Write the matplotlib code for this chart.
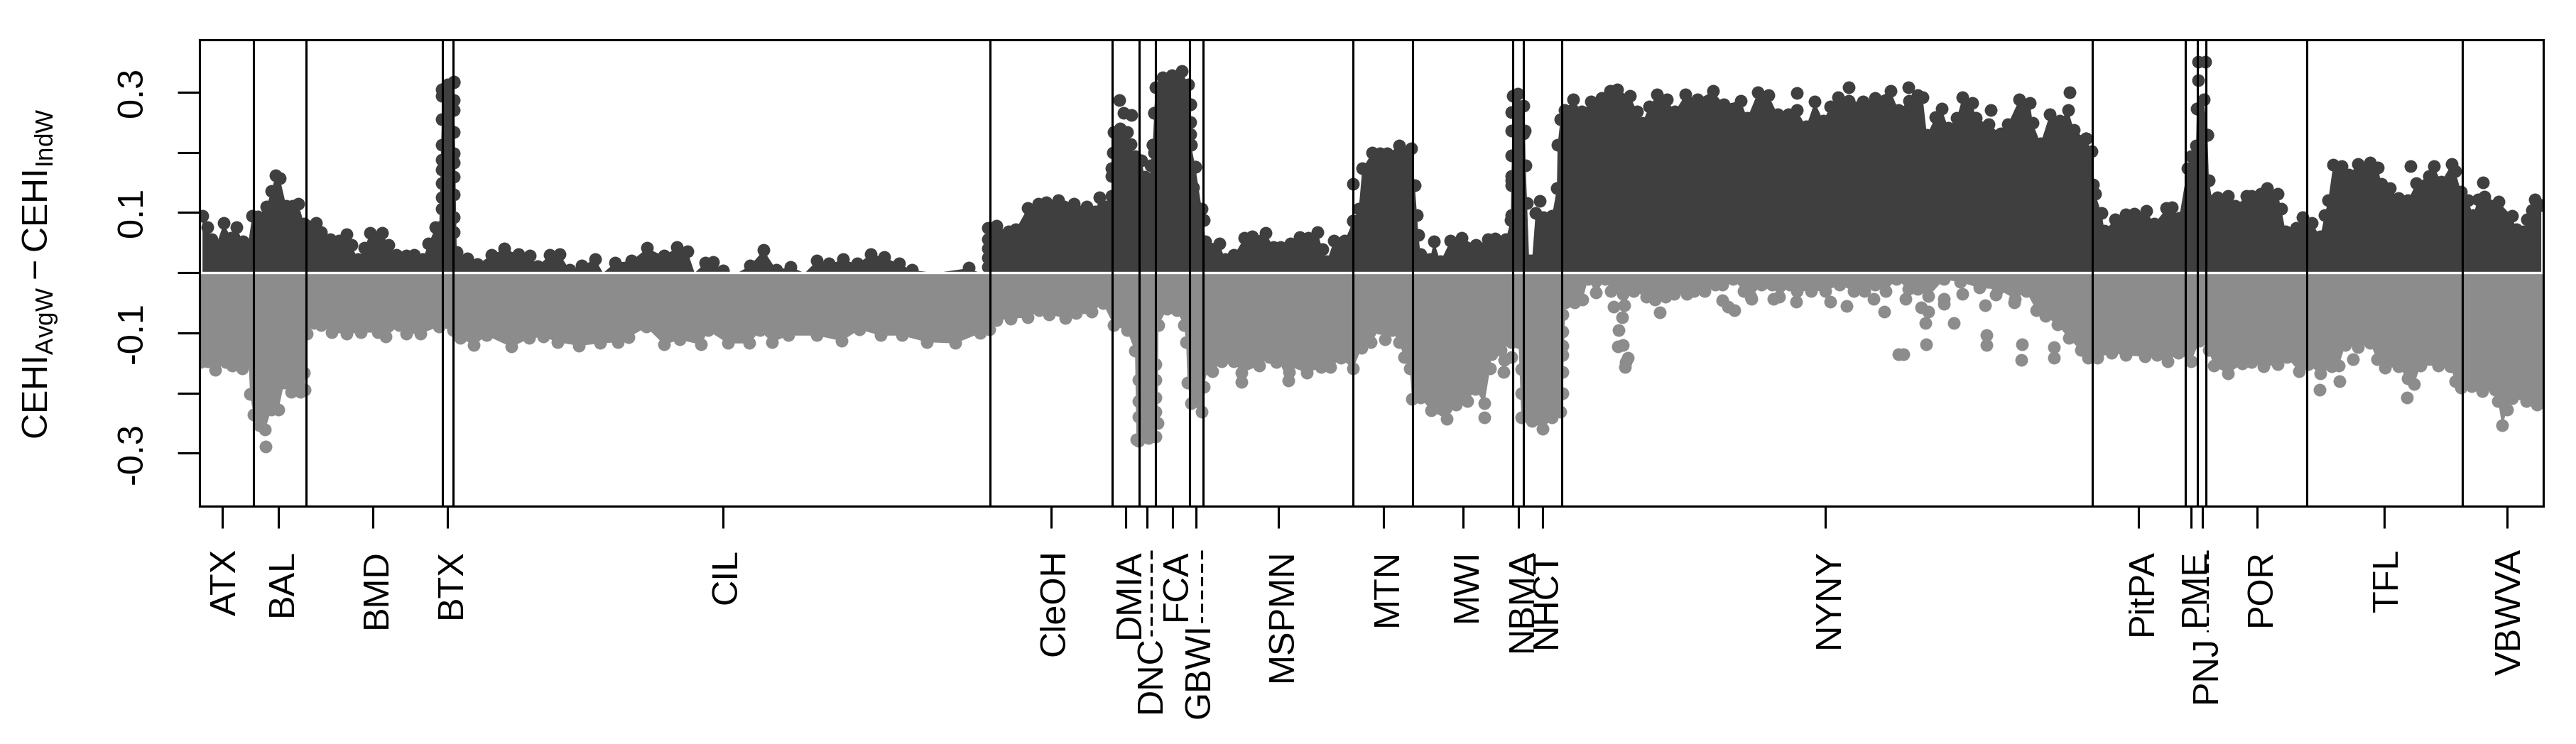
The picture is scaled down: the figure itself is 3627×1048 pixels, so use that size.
import numpy as np
import matplotlib
matplotlib.use('Agg')
import matplotlib.pyplot as plt

plt.rcParams['font.family'] = ['Liberation Sans', 'DejaVu Sans']
plt.rcParams['mathtext.fontset'] = 'custom'
plt.rcParams['mathtext.rm'] = 'Liberation Sans'

DARK = '#3f3f3f'
GRAY = '#8c8c8c'

# city blocks along the record index
cities = ['ATX', 'BAL', 'BMD', 'BTX', 'CIL', 'CleOH', 'DMIA', 'DNC', 'FCA', 'GBWI', 'MSPMN',
          'MTN', 'MWI', 'NBMA', 'NHCT', 'NYNY', 'PitPA', 'PME', 'PNJ', 'POR', 'TFL', 'VBWVA']
city_ticks = [313, 392, 525, 630, 1018, 1480, 1585, 1615, 1651, 1684, 1800,
              1948, 2060, 2138, 2172, 2570, 3011, 3085, 3101, 3178, 3357, 3530]
borders = [357, 431, 623, 638, 1394, 1566, 1604, 1627, 1675, 1694, 1905, 1989,
           2130, 2145, 2199, 2946, 3077, 3094, 3106, 3248, 3467]

# upper edge of the positive differences
up_x = [285, 292, 298, 303, 315, 325, 333, 342, 349, 355, 363, 375, 382, 388, 394, 403, 412, 420, 428,
        438, 445, 452, 465, 477, 488, 495, 504, 513, 521, 530, 538, 547, 558, 572, 583, 595, 603, 613, 618,
        623, 630, 639, 643, 658, 672, 692, 710, 730, 746, 757, 774, 788, 802, 819, 838, 849, 866, 889, 911,
        935, 953, 968, 978, 993, 1004, 1018, 1038, 1056, 1075, 1093, 1113, 1133, 1150, 1167, 1187, 1207,
        1226, 1245, 1266, 1284, 1317, 1364, 1380, 1390, 1391, 1403, 1420, 1430, 1447, 1462, 1473, 1490, 1498, 1512,
        1530, 1542, 1548, 1557, 1565, 1568, 1577, 1587, 1592, 1598, 1607, 1612, 1618, 1620, 1623, 1625,
        1627, 1637, 1650, 1664, 1673, 1676, 1677, 1683, 1692, 1695, 1697, 1717, 1725, 1737, 1752, 1763,
        1782, 1793, 1803, 1817, 1830, 1842, 1855, 1862, 1868, 1878, 1893, 1905, 1913, 1918, 1932, 1943,
        1953, 1970, 1987, 1992, 1995, 1997, 2000, 2013, 2019, 2028, 2042, 2058, 2078, 2095, 2105, 2120,
        2127, 2128, 2130, 2137, 2145, 2147, 2148, 2150, 2153, 2157, 2162, 2173, 2185, 2192, 2193, 2197,
        2203, 2215, 2227, 2240, 2255, 2267, 2277, 2295, 2305, 2312, 2322, 2333, 2347, 2358, 2373, 2390,
        2412, 2427, 2451, 2460, 2475, 2490, 2503, 2518, 2530, 2543, 2555, 2567, 2577, 2588, 2603, 2623,
        2640, 2662, 2673, 2688, 2700, 2707, 2713, 2725, 2734, 2743, 2755, 2763, 2777, 2782, 2800, 2817,
        2827, 2843, 2858, 2862, 2873, 2886, 2900, 2912, 2920, 2937, 2945, 2947, 2950, 2959, 2963, 2978,
        2993, 3005, 3022, 3033, 3050, 3058, 3068, 3080, 3085, 3092, 3093, 3103, 3108, 3110, 3115, 3122,
        3137, 3147, 3163, 3170, 3183, 3192, 3207, 3212, 3218, 3227, 3233, 3242, 3255, 3267, 3273, 3278,
        3285, 3297, 3307, 3320, 3337, 3348, 3353, 3365, 3377, 3390, 3402, 3420, 3427, 3437, 3452, 3457,
        3465, 3475, 3482, 3489, 3498, 3518, 3537, 3543, 3553, 3558, 3565, 3569, 3578]
up_y = [.094, .075, .055, .041, .083, .058, .075, .052, .046, .094, .093, .11, .136, .162, .157, .111, .111, .115, .082,
        .077, .083, .067, .055, .053, .064, .046, .022, .041, .066, .058, .066, .046, .029, .028, .03, .022, .048, .075, .058,
        .304, .313, .317, .034, .024, .014, .03, .04, .031, .028, .011, .03, .031, .005, .012, .023, .0, .017, .02, .041,
        .028, .043, .035, .0, .017, .018, .004, .0, .012, .038, .005, .01, .0, .02, .015, .022, .015,
        .031, .026, .015, .005, .0, .008, .0, .0, .074, .078, .069, .072, .108, .114, .117, .12, .11, .114,
        .11, .101, .125, .11, .127, .234, .24, .234, .214, .193, .186, .159, .145, .178, .212, .265,
        .308, .325, .328, .335, .313, .28, .212, .176, .106, .087, .052, .048, .022, .029, .058, .06,
        .066, .043, .043, .048, .059, .058, .067, .039, .019, .053, .053, .086, .106, .173, .2, .198,
        .198, .211, .206, .145, .096, .063, .031, .022, .052, .019, .053, .058, .046, .055, .057, .055,
        .087, .154, .294, .297, .277, .236, .178, .116, .02, .02, .099, .092, .094, .14, .212, .255,
        .27, .288, .268, .284, .29, .302, .304, .294, .268, .249, .276, .296, .288, .268, .296, .288,
        .302, .28, .286, .257, .3, .295, .263, .263, .27, .243, .284, .253, .276, .292, .286, .284,
        .29, .302, .27, .286, .295, .292, .229, .259, .272, .241, .257, .291, .282, .257, .247, .231,
        .247, .288, .282, .249, .215, .263, .253, .27, .237, .223, .202, .146, .131, .099, .07, .089,
        .097, .098, .103, .081, .107, .109, .091, .174, .194, .211, .272, .288, .229, .154, .119, .125,
        .127, .111, .127, .128, .131, .14, .131, .106, .069, .06, .074, .092, .083, .06, .096, .12,
        .179, .177, .163, .181, .183, .175, .147, .141, .124, .12, .149, .161, .177, .151, .181, .169,
        .135, .12, .096, .122, .126, .118, .094, .072, .069, .088, .104, .122, .112]

# lone points and tower flanks above the edge
up_iso_x = [622, 622, 622, 622, 622, 622, 622, 622, 622, 622, 639, 639, 639, 639, 639, 639, 639, 639, 639, 639,
            1567, 1565, 1565, 1576, 1582, 1593, 1623, 1625, 1625, 1676, 1676, 1676, 1680, 1683, 1905, 1905,
            2128, 2128, 2128, 2128, 2128, 2128, 2145, 2145, 2145, 2168, 2530, 2603, 2687, 2803, 2914, 2937,
            3095, 3095, 3105, 3094, 3108, 3394, 3496, 3555, 3483, 1391, 1391, 1391, 1391]
up_iso_y = [.304, .294, .255, .212, .188, .171, .149, .125, .106, .077, .316, .287, .27, .234, .198, .183, .159, .13, .092, .067,
            .2, .173, .161, .287, .266, .262, .212, .265, .2, .28, .25, .23, .142, .176, .147, .086,
            .267, .236, .195, .161, .145, .096, .231, .178, .116, .119, .299, .308, .308, .27, .3, .223,
            .351, .32, .351, .272, .229, .177, .15, .06, .05, .055, .04, .025, .01]

# lower edge of the negative differences
low_x = [282, 292, 303, 318, 327, 341, 350, 352, 357, 365, 373, 382, 392, 400, 410, 423, 429, 432, 442, 452,
         467, 488, 508, 532, 543, 562, 572, 592, 618, 630, 638, 648, 667, 685, 720, 745, 765, 785, 815, 845,
         870, 885, 910, 935, 957, 987, 997, 1025, 1055, 1070, 1087, 1110, 1150, 1185, 1210, 1240, 1270,
         1305, 1345, 1380, 1393, 1403, 1423, 1447, 1463, 1477, 1500, 1515, 1527, 1537, 1553, 1568, 1587,
         1598, 1600, 1603, 1617, 1627, 1630, 1631, 1643, 1657, 1667, 1670, 1672, 1677, 1692, 1695, 1700,
         1707, 1720, 1737, 1748, 1773, 1787, 1797, 1813, 1840, 1860, 1873, 1888, 1905, 1917, 1930, 1943,
         1950, 1960, 1970, 1977, 1985, 1988, 2000, 2015, 2037, 2050, 2066, 2077, 2090, 2098, 2100, 2113,
         2128, 2138, 2142, 2157, 2172, 2185, 2197, 2200, 2204, 2217, 2228, 2236, 2247, 2260, 2268, 2285,
         2300, 2318, 2330, 2345, 2357, 2375, 2385, 2400, 2415, 2425, 2440, 2455, 2465, 2480, 2495, 2505,
         2520, 2530, 2550, 2570, 2590, 2610, 2625, 2640, 2655, 2670, 2687, 2700, 2715, 2737, 2760, 2787,
         2813, 2837, 2853, 2867, 2880, 2897, 2913, 2930, 2940, 2953, 2973, 2993, 3020, 3037, 3052, 3067,
         3085, 3097, 3103, 3110, 3117, 3137, 3157, 3170, 3187, 3207, 3220, 3237, 3250, 3267, 3283, 3293,
         3302, 3320, 3337, 3347, 3358, 3377, 3390, 3399, 3408, 3433, 3450, 3457, 3465, 3480, 3495, 3513,
         3517, 3523, 3530, 3537, 3557, 3572, 3580]
low_y = [-.149, -.147, -.161, -.149, -.154, -.159, -.149, -.202, -.236, -.253, -.261, -.227, -.227, -.183, -.198, -.198, -.195, -.101, -.084, -.087,
         -.099, -.101, -.099, -.099, -.106, -.087, -.101, -.101, -.089, -.082, -.096, -.108, -.12, -.104, -.123, -.109, -.106, -.115, -.121, -.117,
         -.115, -.107, -.09, -.119, -.111, -.119, -.096, -.117, -.117, -.096, -.115, -.104, -.104, -.113, -.094, -.104, -.104,
         -.115, -.117, -.1, -.094, -.079, -.076, -.074, -.063, -.069, -.075, -.067, -.058, -.065, -.051, -.087, -.096,
         -.13, -.277, -.279, -.275, -.272, -.25, -.087, -.06, -.063, -.087, -.116, -.183, -.217, -.231, -.19, -.159,
         -.164, -.147, -.147, -.166, -.154, -.14, -.149, -.154, -.166, -.157, -.157, -.142, -.159, -.125, -.116, -.092,
         -.111, -.096, -.116, -.14, -.159, -.21, -.207, -.229, -.243, -.219, -.214, -.193, -.217, -.159, -.135, -.128,
         -.116, -.116, -.241, -.246, -.26, -.241, -.231, -.2, -.05, -.05, -.045, -.01, -.033, -.01, -.03, -.035,
         -.03, -.04, -.045, -.04, -.035, -.035, -.03, -.03, -.02, -.02, -.01, -.03, -.04, -.02, -.02, -.04,
         -.02, -.03, -.03, -.03, -.02, -.03, -.03, -.02, -.03, -.01, -.027, -.027, -.039, -.011, -.015, -.025,
         -.027, -.043, -.031, -.062, -.072, -.086, -.109, -.129, -.141, -.141, -.133, -.137, -.139, -.137, -.147, -.133,
         -.147, -.113, -.106, -.129, -.155, -.167, -.151, -.148, -.156, -.152, -.14, -.164, -.152, -.168, -.156, -.154,
         -.12, -.124, -.117, -.144, -.158, -.156, -.176, -.185, -.154, -.154, -.156, -.18, -.191, -.189, -.197, -.195,
         -.213, -.254, -.227, -.209, -.213, -.219, -.215]

# lone points and tower flanks below the edge
low_iso_x = [374, 428, 1603, 1603, 1603, 1603, 1627, 1627, 1627, 1627, 1627, 1748, 1814, 1815, 2090, 2117, 2118, 2128,
             2142, 2142, 2200, 2200, 2200, 2200, 2200, 2272, 2287, 2284, 2279, 2278, 2285, 2292, 2289, 2288, 2330, 2337,
             2425, 2433, 2442, 2466, 2497, 2529, 2577, 2600, 2638, 2653, 2673, 2683, 2680, 2705, 2715, 2711, 2737, 2737,
             2751, 2712, 2797, 2797, 2795, 2836, 2847, 2846, 2892, 2892, 2763, 2810, 3266, 3294, 3313, 3389]
low_iso_y = [-.289, -.166, -.13, -.178, -.214, -.239, -.152, -.178, -.207, -.231, -.25, -.181, -.179, -.165, -.241, -.165, -.145, -.14,
             -.16, -.2, -.07, -.098, -.121, -.137, -.165, -.056, -.054, -.074, -.096, -.123, -.12, -.141, -.149, -.157, -.044, -.066,
             -.046, -.056, -.062, -.044, -.043, -.048, -.048, -.055, -.044, -.065, -.135, -.043, -.135, -.058, -.065, -.084, -.043, -.052,
             -.084, -.119, -.104, -.12, -.054, -.05, -.119, -.145, -.124, -.141, -.035, -.037, -.195, -.18, -.144, -.208]

yticks = [0.3, 0.2, 0.1, 0.0, -0.1, -0.2, -0.3]
ytick_labels = ['0.3', '', '0.1', '', '-0.1', '', '-0.3']

W, H = 3627, 1048
fig = plt.figure(figsize=(W / 300, H / 300), dpi=300)
ax = fig.add_axes([280.6 / W, 1 - 713 / H, 3300 / W, 657 / H])
LW = 0.75
SIZE = 18.5
FONT = 12.1

up_x, up_y = np.array(up_x), np.array(up_y)
low_x, low_y = np.array(low_x), np.array(low_y)

ax.fill_between(up_x, 0, up_y, color=DARK, lw=0)
ax.scatter(up_x[up_y > 0], up_y[up_y > 0], s=SIZE, color=DARK, linewidths=0)
ax.scatter(up_iso_x, up_iso_y, s=SIZE, color=DARK, linewidths=0)
ax.fill_between(low_x, 0, low_y, color=GRAY, lw=0)
ax.scatter(low_x, low_y, s=SIZE, color=GRAY, linewidths=0)
ax.scatter(low_iso_x, low_iso_y, s=SIZE, color=GRAY, linewidths=0)

ax.axhline(0, color='white', lw=0.8)
for b in borders:
    ax.axvline(b, color='black', lw=LW)

ax.set_xlim(281, 3581)
ax.set_ylim(-0.388, 0.387)
ax.set_yticks(yticks)
ax.set_yticklabels(ytick_labels, rotation=90, va='center', fontsize=FONT)
ax.set_xticks(city_ticks)
ax.set_xticklabels([])
ax.tick_params(length=7.4, width=LW, pad=9.6)
for s in ax.spines.values():
    s.set_linewidth(LW)

# labels hang below the axis, the crowded ones pushed further down with a leader
trans = ax.get_xaxis_transform()
drop = {'DNC': (-43.6, 1621, -0.279), 'GBWI': (-39.6, 1692, -0.25), 'PNJ': (-43.6, 3108, -0.27)}
for name, x in zip(cities, city_ticks):
    off = -14.4
    if name in drop:
        off, lead_x, lead_end = drop[name]
        ax.plot([lead_x, lead_x], [-0.094, lead_end], transform=trans, color='black',
                lw=LW, ls=(0, (4, 2)), clip_on=False)
    ax.annotate(name, xy=(x, 0), xycoords=trans, xytext=(1.5, off), textcoords='offset points',
                rotation=90, ha='center', va='top', fontsize=FONT)

fig.text(57 / W, 1 - 386 / H, r'$\mathrm{CEHI}_{\mathrm{AvgW}}-\mathrm{CEHI}_{\mathrm{IndW}}$',
         rotation=90, ha='center', va='center', fontsize=12)

fig.savefig('out.png', dpi=300)
